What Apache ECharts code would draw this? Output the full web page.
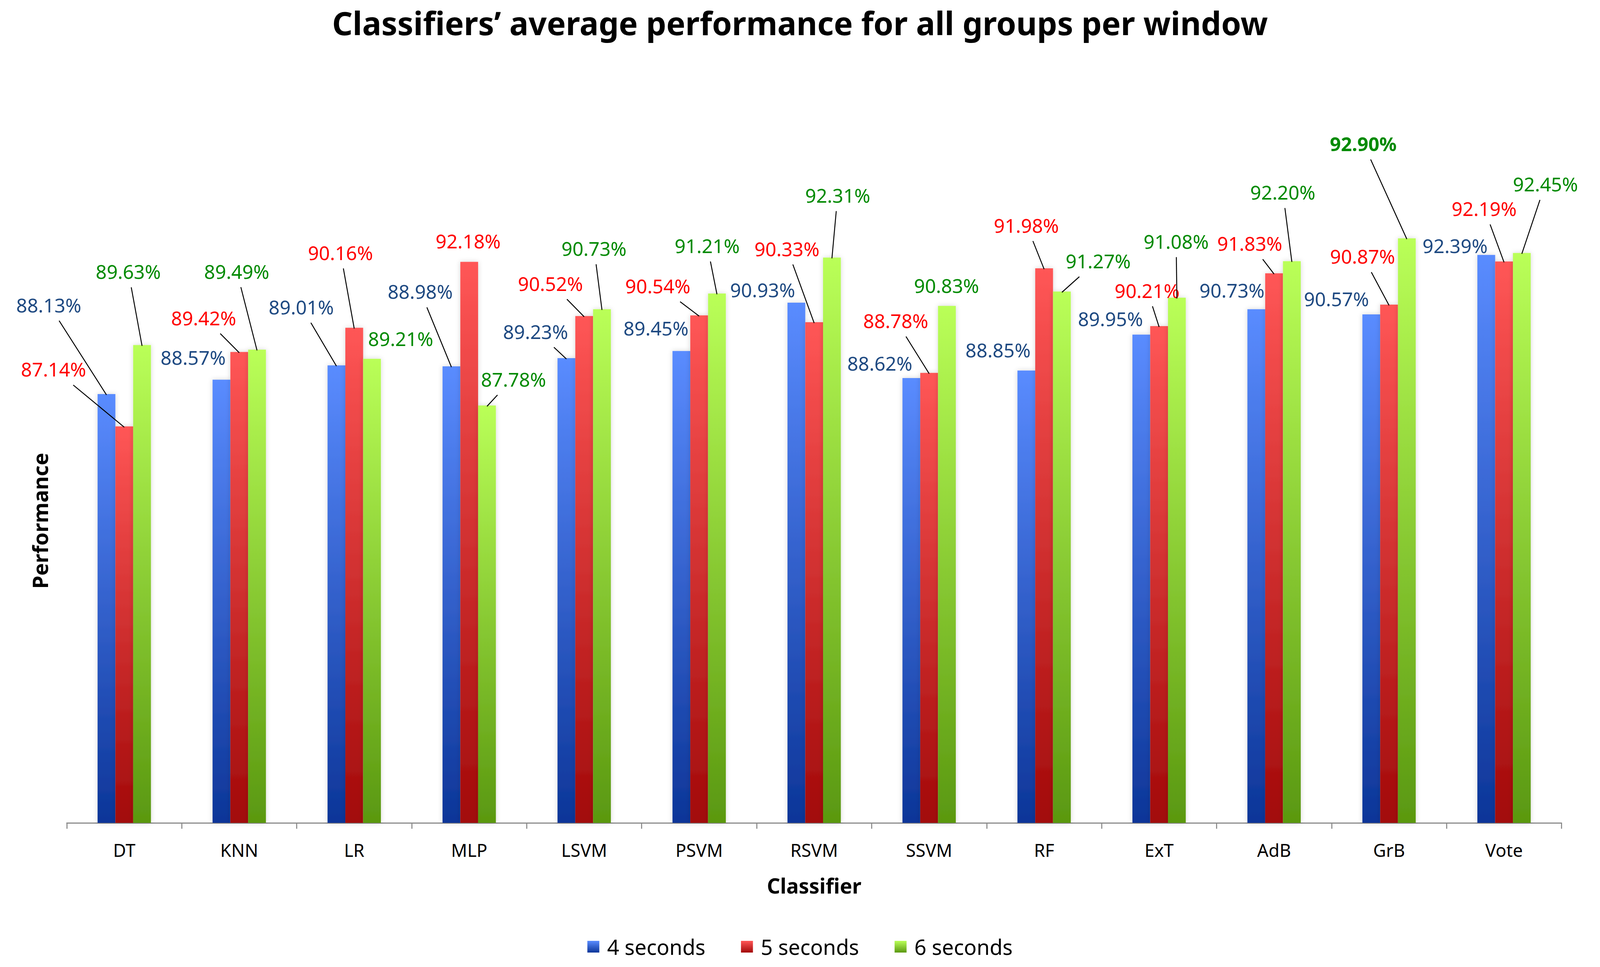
<!DOCTYPE html>
<html>
<head>
<meta charset="utf-8">
<script src="https://cdn.jsdelivr.net/npm/echarts@6/dist/echarts.min.js"></script>
<style>
html,body{margin:0;padding:0;background:#fff;overflow:hidden;}
#chart{width:100vw;height:100vh;}
</style>
</head>
<body>
<div id="chart"></div>
<script>
// ---- data ----
const categories = ['DT','KNN','LR','MLP','LSVM','PSVM','RSVM','SSVM','RF','ExT','AdB','GrB','Vote'];
const seriesNames = ['4 seconds','5 seconds','6 seconds'];
const sec4 = [88.13, 88.57, 89.01, 88.98, 89.23, 89.45, 90.93, 88.62, 88.85, 89.95, 90.73, 90.57, 92.39];
const sec5 = [87.14, 89.42, 90.16, 92.18, 90.52, 90.54, 90.33, 88.78, 91.98, 90.21, 91.83, 90.87, 92.19];
const sec6 = [89.63, 89.49, 89.21, 87.78, 90.73, 91.21, 92.31, 90.83, 91.27, 91.08, 92.20, 92.90, 92.45];

// ---- label placement (offset of label centre from bar-top centre, in 4409x2476 px) ----
const labelOffsets = [
  [[-159,-229],[-78,-58],[-97,-150],[-86,-192],[-85,-69],[-70,-59],[-93,-33],[-87,-39],[-78,-53],[-85,-41],[-67,-49],[-96,-41],[-86,-24]],
  [[-195,-147],[-98,-88],[-38,-193],[-3,-54],[-93,-84],[-114,-76],[-75,-189],[-92,-134],[-49,-111],[-33,-92],[-67,-77],[-73,-124],[-55,-136]],
  [[-38,-189],[-56,-201],[79,-52],[73,-68],[-22,-156],[-27,-123],[16,-160],[-1,-53],[100,-79],[-2,-145],[-25,-177],[-120,-243],[65,-177]]
];
const leaderShown = [
  [1,0,1,1,1,0,0,0,0,0,0,0,0],
  [1,1,1,0,1,1,1,1,1,1,1,1,1],
  [1,1,0,1,1,1,1,0,1,1,1,1,1]
];
const boldLabel = [[],[],[11]];

const gradients = [
  ['#5A8CFF','#0C3598'],
  ['#FF5656','#A20A0A'],
  ['#BAFF58','#5A9810']
];
const labelColors = ['#1F4A82','#FF0000','#008A00'];

const el = document.getElementById('chart');
const chart = echarts.init(el, null, {renderer:'svg'});
const W = chart.getWidth(), H = chart.getHeight();
const sx = W / 4409, sy = H / 2476, sf = Math.min(sx, sy);
const FONT = '"Noto Sans", "Open Sans", sans-serif';
const BAR_W = 49 * sx;
const LABEL_FS = 53 * sf;

function makeBarSeries(idx, values){
  return {
    name: seriesNames[idx],
    type: 'bar',
    barWidth: BAR_W,
    barGap: '0%',
    z: 2,
    itemStyle: {
      color: new echarts.graphic.LinearGradient(0,0,0,1,[
        {offset:0,color:gradients[idx][0]},
        {offset:1,color:gradients[idx][1]}
      ]),
      shadowColor: 'rgba(0,0,0,0.16)',
      shadowBlur: 14 * sf
    },
    data: values.map((v,i)=>({
      value: v,
      label: {fontWeight: boldLabel[idx].indexOf(i) >= 0 ? 'bold' : 'normal'}
    })),
    label: {
      show: true,
      position: 'top',
      formatter: p => p.value.toFixed(2) + '%',
      color: labelColors[idx],
      fontSize: LABEL_FS,
      fontFamily: FONT
    },
    labelLayout: function(params){
      const o = labelOffsets[idx][params.dataIndex];
      return {
        x: params.rect.x + params.rect.width/2 + o[0]*sx,
        y: params.rect.y + o[1]*sy,
        align: 'center',
        verticalAlign: 'middle'
      };
    }
  };
}

// leader lines from each moved label to the top of its bar
function makeLeaderSeries(idx, values){
  const shift = (idx - 1) * BAR_W;
  return {
    name: 'leader-' + idx,
    type: 'custom',
    silent: true,
    z: 5,
    data: values.map((v,i)=>[i, v]),
    renderItem: function(params, api){
      const i = api.value(0);
      if (!leaderShown[idx][i]) return null;
      const top = api.coord([i, api.value(1)]);
      const bx = top[0] + shift, by = top[1];
      const o = labelOffsets[idx][i];
      const lx = bx + o[0]*sx, ly = by + o[1]*sy;
      const dx = bx - lx, dy = by - ly;
      const hw = 95*sx + 12*sx, hh = 27*sy + 14*sy;
      let s = Math.min(dx !== 0 ? hw/Math.abs(dx) : Infinity, dy !== 0 ? hh/Math.abs(dy) : Infinity);
      if (s >= 1) return null;
      return {
        type: 'line',
        shape: {x1: lx + s*dx, y1: ly + s*dy, x2: bx, y2: by + 2*sy},
        style: {stroke: '#000', lineWidth: 2.6*sf}
      };
    }
  };
}

chart.setOption({
  backgroundColor: '#fff',
  animation: false,
  title: {
    text: 'Classifiers\u2019 average performance for all groups per window',
    left: 'center',
    top: 12*sy,
    textStyle: {fontSize: 88*sf, fontWeight: 'bold', color: '#000', fontFamily: FONT}
  },
  legend: {
    bottom: 20*sy,
    left: 'center',
    itemWidth: 33*sx,
    itemHeight: 30*sy,
    itemGap: 98*sx,
    icon: 'rect',
    textStyle: {fontSize: 58*sf, color: '#000', fontFamily: FONT, padding: [0,0,0,16*sx]},
    data: seriesNames
  },
  grid: {left: 184*sx, right: 106*sx, top: 560*sy, bottom: 369*sy, containLabel: false},
  xAxis: {
    type: 'category',
    data: categories,
    name: 'Classifier',
    nameLocation: 'middle',
    nameGap: 134*sy,
    nameTextStyle: {fontSize: 57*sf, fontWeight: 'bold', color: '#000', fontFamily: FONT},
    axisLine: {lineStyle: {color: '#8C8C8C', width: 3*sf}},
    axisTick: {show: true, length: 15*sy, lineStyle: {color: '#8C8C8C', width: 3*sf}},
    axisLabel: {fontSize: 49*sf, color: '#000', margin: 46*sy, fontFamily: FONT}
  },
  yAxis: {
    type: 'value',
    min: 75,
    max: 93.5,
    name: 'Performance',
    nameLocation: 'middle',
    nameRotate: 90,
    nameGap: 45*sx,
    nameTextStyle: {fontSize: 58*sf, fontWeight: 'bold', color: '#000', fontFamily: FONT},
    axisLine: {show: false},
    axisTick: {show: false},
    axisLabel: {show: false},
    splitLine: {show: false}
  },
  series: [
    makeBarSeries(0, sec4), makeBarSeries(1, sec5), makeBarSeries(2, sec6),
    makeLeaderSeries(0, sec4), makeLeaderSeries(1, sec5), makeLeaderSeries(2, sec6)
  ]
});
</script>
</body>
</html>
